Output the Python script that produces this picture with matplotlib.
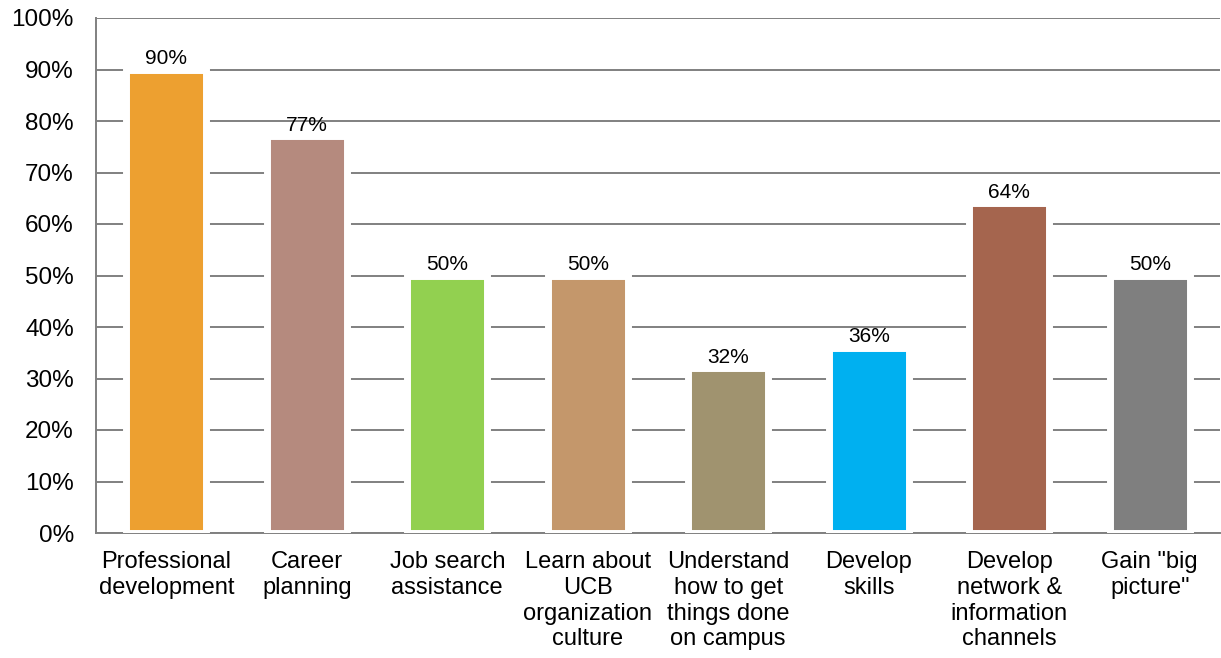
import matplotlib.pyplot as plt
import matplotlib.patheffects as pe
from matplotlib.ticker import PercentFormatter

plt.rcParams['font.family'] = ['Liberation Sans', 'DejaVu Sans']

# survey results: share of participants per benefit
categories = ['Professional\ndevelopment', 'Career\nplanning', 'Job search\nassistance',
              'Learn about\nUCB\norganization\nculture', 'Understand\nhow to get\nthings done\non campus',
              'Develop\nskills', 'Develop\nnetwork &\ninformation\nchannels', 'Gain "big\npicture"']
values = [0.90, 0.77, 0.50, 0.50, 0.32, 0.36, 0.64, 0.50]
colors = ['#EDA030', '#B58A7E', '#92D050', '#C4976B', '#A0936F', '#00B0F0', '#A5654E', '#7F7F7F']
yticks = [0, 0.1, 0.2, 0.3, 0.4, 0.5, 0.6, 0.7, 0.8, 0.9, 1.0]

fig = plt.figure(figsize=(12.21, 6.58), dpi=100)
ax = fig.add_axes([96 / 1221, 125 / 658, 1124 / 1221, 515 / 658])

x = range(len(categories))
bars = ax.bar(x, values, width=0.57, color=colors, edgecolor='white', linewidth=5, zorder=3)
for b in bars:
    b.set_path_effects([pe.SimplePatchShadow(offset=(0, -1), shadow_rgbFace='#000000', alpha=0.12),
                        pe.Normal()])

for xi, v in zip(x, values):
    ax.annotate(f'{v:.0%}', (xi, v), xytext=(0, 1), textcoords='offset points',
                ha='center', va='bottom', fontsize=15, zorder=4)

ax.set_xlim(-0.5, len(categories) - 0.5)
ax.set_ylim(0, 1.0)
ax.set_yticks(yticks)
ax.yaxis.set_major_formatter(PercentFormatter(1.0, decimals=0))
ax.set_xticks(list(x))
ax.set_xticklabels(categories, fontsize=17, linespacing=1.22)
ax.tick_params(axis='y', length=0, pad=16, labelsize=17.5)
ax.tick_params(axis='x', length=0, pad=13)

ax.yaxis.grid(True, color='#808080', linewidth=1.4, zorder=0)
ax.set_axisbelow(True)
for s in ['top', 'right']:
    ax.spines[s].set_visible(False)
for s in ['left', 'bottom']:
    ax.spines[s].set_color('#808080')
    ax.spines[s].set_linewidth(1.4)

fig.savefig('out.png', dpi=100)
